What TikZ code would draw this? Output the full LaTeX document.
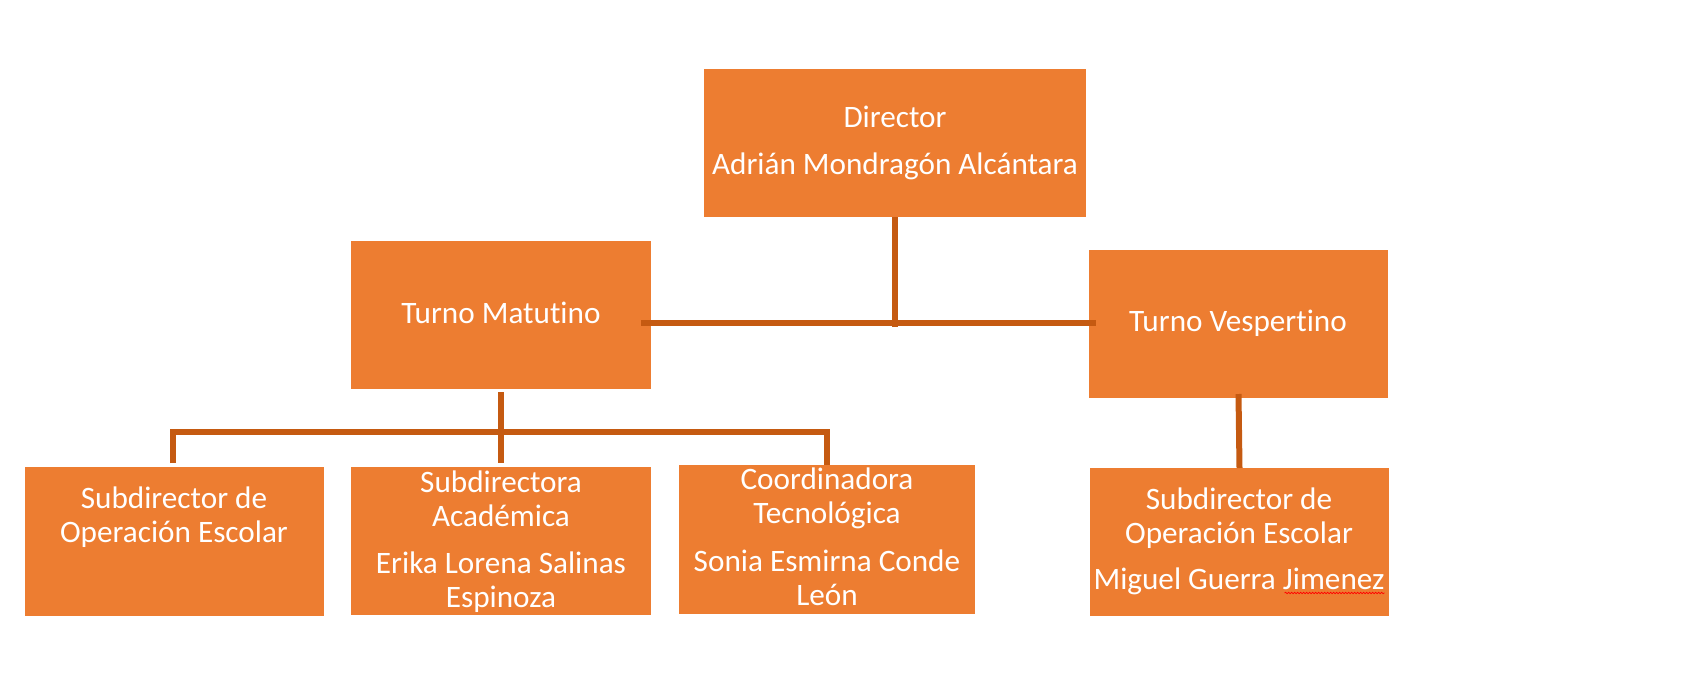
\documentclass[tikz,border=0pt]{standalone}
\usepackage{fontspec}
\setmainfont{Carlito}[Ligatures=NoCommon]
\usetikzlibrary{decorations.pathmorphing}
\definecolor{naranja}{HTML}{ED7D31}
\definecolor{linea}{HTML}{C55A11}
\tikzset{
  caja/.style={fill=naranja, draw=none, inner sep=0pt, outer sep=0pt, anchor=north west},
  txt/.style={text=white, font=\fontsize{31.2}{34}\selectfont, align=center, anchor=base, inner sep=0pt},
  conn/.style={draw=linea, line width=6pt}
}
\begin{document}
\begin{tikzpicture}[x=1pt,y=-1pt]
\useasboundingbox (0,0) rectangle (1700,678);
\node[caja, minimum width=382pt, minimum height=148pt] (dir) at (704,69) {};
\node[caja, minimum width=300pt, minimum height=148pt] (tm) at (351,241) {};
\node[caja, minimum width=299pt, minimum height=148pt] (tv) at (1089,250) {};
\node[caja, minimum width=299pt, minimum height=149pt] (sub1) at (25,467) {};
\node[caja, minimum width=300pt, minimum height=148pt] (sub2) at (351,467) {};
\node[caja, minimum width=296pt, minimum height=149pt] (coord) at (679,465) {};
\node[caja, minimum width=299pt, minimum height=148pt] (sub4) at (1090,468) {};
\node[txt] (dirA) at (895,127) {Director};
\node[txt] (dirB) at (895,174) {Adrián Mondragón Alcántara};
\node[txt] (tmA) at (501,323) {Turno Matutino};
\node[txt] (tvA) at (1238,331) {Turno Vespertino};
\node[txt] (sub1A) at (174,542) {Subdirector de\\Operación Escolar};
\node[txt] (sub2A) at (501,526) {Subdirectora\\Académica};
\node[txt] (sub2B) at (501,607) {Erika Lorena Salinas\\Espinoza};
\node[txt] (coordA) at (827,523) {Coordinadora\\Tecnológica};
\node[txt] (coordB) at (827,605) {Sonia Esmirna Conde\\León};
\node[txt] (sub4A) at (1239,543) {Subdirector de\\Operación Escolar};
\node[txt] (sub4B) at (1239,589) {Miguel Guerra Jimenez};
\coordinate (jn) at (895,323);
\coordinate (bar) at (501,432);
\draw[conn] ([xshift=-10pt]tm.east |- jn) -- ([xshift=7pt]tv.west |- jn);
\draw[conn] (dir.south) -- ([yshift=-4pt]jn);
\draw[conn] ([yshift=-3pt]tm.south) -- ([yshift=4pt]sub2.north);
\draw[conn] ([xshift=-2pt,yshift=4pt]sub1.north) |- (bar) -| (coord.north);
\draw[conn] ([yshift=4pt]tv.south) -- (sub4.north);
\draw[red, line width=0.7pt, decorate, decoration={snake, amplitude=0.7pt, segment length=3pt}] ([xshift=-100pt,yshift=-4pt]sub4B.base east) -- ([yshift=-4pt]sub4B.base east);
\end{tikzpicture}
\end{document}
